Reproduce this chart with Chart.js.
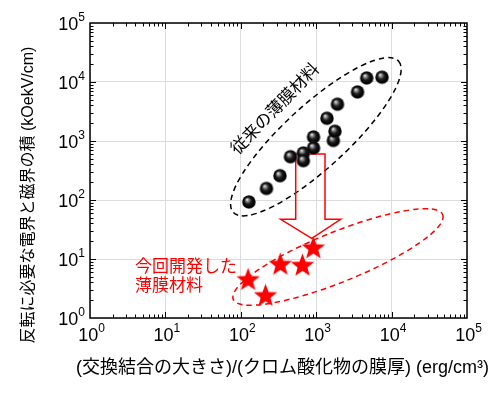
<!DOCTYPE html>
<html><head><meta charset="utf-8">
<script src="https://cdn.jsdelivr.net/npm/chart.js@4.4.0/dist/chart.umd.min.js"></script>
<style>html,body{margin:0;padding:0;background:#fff}#wrap{width:500px;height:393px}</style>
</head><body><div id="wrap"><canvas id="c" width="500" height="393"></canvas></div>
<script>
// ---- data ----
const conventionalX = [128, 219, 331, 456, 675, 675, 921, 921, 1390, 1687, 1775, 1916, 3530, 4675, 7460];
const conventionalY = [92.5, 157, 258, 542, 626, 464, 1169, 761, 2426, 1020, 1460, 4205, 6770, 11690, 12050];
const newX = [125, 213, 334, 658, 916];
const newY = [4.58, 2.45, 8.32, 8.0, 15.8];
const tickExponents = [0, 1, 2, 3, 4, 5];
const xTitle = '(交換結合の大きさ)/(クロム酸化物の膜厚) (erg/cm³)';
const yTitle = '反転に必要な電界と磁界の積 (kOekV/cm)';
const conventionalLabel = '従来の薄膜材料';
const newLabel = ['今回開発した', '薄膜材料'];

const LATIN = '"Liberation Sans", Arial, "Noto Sans CJK JP", sans-serif';

function sphere(r) {
  const s = Math.ceil(2 * r + 2);
  const c = document.createElement('canvas'); c.width = c.height = s;
  const g = c.getContext('2d'); const cx = s / 2, cy = s / 2;
  const grad = g.createRadialGradient(cx - r * 0.3, cy - r * 0.38, 0, cx, cy, r);
  grad.addColorStop(0, '#ffffff'); grad.addColorStop(0.18, '#a0a0a0');
  grad.addColorStop(0.5, '#1e1e1e'); grad.addColorStop(0.85, '#000'); grad.addColorStop(1, '#333');
  g.fillStyle = grad; g.beginPath(); g.arc(cx, cy, r, 0, Math.PI * 2); g.fill();
  return c;
}
function star(R, ratio, color) {
  const s = Math.ceil(2 * R + 2);
  const c = document.createElement('canvas'); c.width = c.height = s;
  const g = c.getContext('2d'); const cx = s / 2, cy = s / 2 + R * 0.09;
  g.beginPath();
  for (let i = 0; i < 10; i++) {
    const rr = i % 2 ? R * ratio : R; const a = -Math.PI / 2 + i * Math.PI / 5;
    const x = cx + rr * Math.cos(a), y = cy + rr * Math.sin(a);
    i ? g.lineTo(x, y) : g.moveTo(x, y);
  }
  g.closePath(); g.fillStyle = color; g.fill();
  return c;
}
const isMajor = v => v > 0 && Math.abs(Math.log10(v) - Math.round(Math.log10(v))) < 1e-9;

const overlay = {
  id: 'overlay',
  beforeDatasetsDraw(chart) {
    const ctx = chart.ctx, xs = chart.scales.x, ys = chart.scales.y;
    const X = v => xs.getPixelForValue(v), Y = v => ys.getPixelForValue(v);
    ctx.save();
    // dashed ellipses
    ctx.lineWidth = 1.5; ctx.setLineDash([5.5, 4]);
    ctx.strokeStyle = '#000';
    ctx.beginPath(); ctx.ellipse(X(990), Y(1180), 112, 31.5, -42.5 * Math.PI / 180, 0, Math.PI * 2); ctx.stroke();
    ctx.strokeStyle = '#ff0000';
    ctx.beginPath(); ctx.ellipse(X(1945), Y(10.8), 113, 25, -22 * Math.PI / 180, 0, Math.PI * 2); ctx.stroke();
    ctx.setLineDash([]);
    // hollow arrow
    ctx.strokeStyle = '#ff0000'; ctx.lineWidth = 1.5;
    const xL = X(535), xR = X(1309), yT = Y(600), yH = Y(47), hL = X(338), hR = X(2113), tx = X(872), ty = Y(22.4);
    ctx.beginPath();
    ctx.moveTo(xL, yT); ctx.lineTo(xR, yT); ctx.lineTo(xR, yH); ctx.lineTo(hR, yH);
    ctx.lineTo(tx, ty); ctx.lineTo(hL, yH); ctx.lineTo(xL, yH); ctx.closePath(); ctx.stroke();
    ctx.restore();
  },
  afterDatasetsDraw(chart) {
    const ctx = chart.ctx, xs = chart.scales.x, ys = chart.scales.y, a = chart.chartArea;
    const X = v => xs.getPixelForValue(v), Y = v => ys.getPixelForValue(v);
    ctx.save();
    // frame
    ctx.strokeStyle = '#000'; ctx.lineWidth = 1.5;
    ctx.strokeRect(a.left, a.top, a.right - a.left, a.bottom - a.top);
    // inward ticks on all sides
    ctx.lineWidth = 1;
    for (let e = 0; e < 5; e++) {
      for (let k = 1; k <= 9; k++) {
        const v = k * Math.pow(10, e); if (k === 1 && e === 0) continue;
        const L = k === 1 ? 6 : 3.5;
        const px = Math.round(X(v)) + 0.5, py = Math.round(Y(v)) + 0.5;
        ctx.beginPath();
        ctx.moveTo(px, a.bottom); ctx.lineTo(px, a.bottom - L);
        ctx.moveTo(px, a.top); ctx.lineTo(px, a.top + L);
        ctx.moveTo(a.left, py); ctx.lineTo(a.left + L, py);
        ctx.moveTo(a.right, py); ctx.lineTo(a.right - L, py);
        ctx.stroke();
      }
    }
    // tick labels 10^n
    ctx.fillStyle = '#000'; ctx.textBaseline = 'alphabetic'; ctx.textAlign = 'left';
    const pow = (exp, x, y, align) => {
      ctx.font = '18px ' + LATIN; const w1 = ctx.measureText('10').width;
      ctx.font = '12px ' + LATIN; const w2 = ctx.measureText(String(exp)).width;
      const s = align === 'right' ? x - w1 - w2 : x - (w1 + w2) / 2;
      ctx.font = '18px ' + LATIN; ctx.fillText('10', s, y);
      ctx.font = '12px ' + LATIN; ctx.fillText(String(exp), s + w1, y - 8.5);
    };
    tickExponents.forEach(e => {
      const v = Math.pow(10, e);
      pow(e, a.left - 5, Y(v) + 6.7, 'right');
      pow(e, X(v) + 1.5, a.bottom + 22.7, 'center');
    });
    // axis titles
    ctx.textAlign = 'center'; ctx.textBaseline = 'middle';
    ctx.font = '18px ' + LATIN;
    ctx.fillText(xTitle, 282.5, 368);
    ctx.save(); ctx.translate(29, 195); ctx.rotate(-Math.PI / 2);
    ctx.font = '16px ' + LATIN; ctx.fillText(yTitle, 0, 0); ctx.restore();
    // annotations
    ctx.save(); ctx.translate(X(290), Y(3420)); ctx.rotate(-46 * Math.PI / 180);
    ctx.font = '17px ' + LATIN; ctx.fillStyle = '#000'; ctx.fillText(conventionalLabel, 0, 0); ctx.restore();
    ctx.fillStyle = '#ff0000'; ctx.textAlign = 'left'; ctx.font = '17px ' + LATIN;
    ctx.fillText(newLabel[0], X(3.95), Y(7.18));
    ctx.fillText(newLabel[1], X(3.95), Y(7.18) + 18.5);
    ctx.restore();
  }
};

const sphereImg = sphere(6.8);
const starImg = star(12.3, 0.42, '#ff0000');

new Chart(document.getElementById('c'), {
  type: 'scatter',
  data: {
    datasets: [
      { label: 'conventional', data: conventionalX.map((x, i) => ({ x, y: conventionalY[i] })), pointStyle: sphereImg, pointRadius: 7 },
      { label: 'new', data: newX.map((x, i) => ({ x, y: newY[i] })), pointStyle: starImg, pointRadius: 12 }
    ]
  },
  options: {
    responsive: false, animation: false, devicePixelRatio: 1,
    layout: { padding: { left: 90, right: 33, top: 23, bottom: 75 } },
    plugins: { legend: { display: false }, tooltip: { enabled: false } },
    scales: {
      x: { type: 'logarithmic', min: 1, max: 1e5, ticks: { display: false },
           grid: { color: c => isMajor(c.tick && c.tick.value) ? '#dcdcdc' : 'rgba(0,0,0,0)', drawTicks: false, lineWidth: 1 },
           border: { display: false }, afterFit: s => { s.height = 0; } },
      y: { type: 'logarithmic', min: 1, max: 1e5, ticks: { display: false },
           grid: { color: c => isMajor(c.tick && c.tick.value) ? '#dcdcdc' : 'rgba(0,0,0,0)', drawTicks: false, lineWidth: 1 },
           border: { display: false }, afterFit: s => { s.width = 0; } }
    }
  },
  plugins: [overlay]
});
</script></body></html>
